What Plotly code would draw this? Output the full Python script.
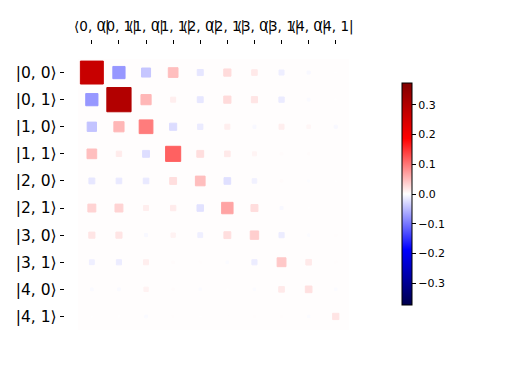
import plotly.graph_objects as go
import numpy as np

# Hinton diagram data (rows = kets |n, m>, cols = bras <n, m|)
row_labels = ["|0, 0⟩", "|0, 1⟩", "|1, 0⟩", "|1, 1⟩", "|2, 0⟩",
              "|2, 1⟩", "|3, 0⟩", "|3, 1⟩", "|4, 0⟩", "|4, 1⟩"]
col_labels = ["⟨0, 0|", "⟨0, 1|", "⟨1, 0|", "⟨1, 1|", "⟨2, 0|",
              "⟨2, 1|", "⟨3, 0|", "⟨3, 1|", "⟨4, 0|", "⟨4, 1|"]

row0 = [0.335, -0.095, -0.052, 0.060, -0.023, 0.033, 0.020, -0.016, -0.006, 0.001]
row1 = [-0.095, 0.374, 0.066, 0.016, -0.022, 0.033, 0.024, -0.018, -0.005, 0.001]
row2 = [-0.055, 0.066, 0.120, -0.032, -0.018, 0.016, -0.006, 0.016, 0.008, -0.006]
row3 = [0.060, 0.018, -0.030, 0.145, 0.030, 0.020, 0.010, 0.004, 0.004, 0.002]
row4 = [-0.022, -0.020, -0.020, 0.030, 0.060, -0.028, -0.013, 0.004, -0.003, 0.001]
row5 = [0.040, 0.040, 0.016, 0.018, -0.027, 0.083, 0.031, -0.006, 0.001, 0.002]
row6 = [0.024, 0.024, -0.006, 0.012, -0.015, 0.030, 0.045, -0.017, -0.004, 0.003]
row7 = [-0.015, -0.017, 0.016, 0.004, 0.003, -0.004, -0.017, 0.050, 0.020, 0.003]
row8 = [-0.005, -0.005, 0.012, 0.004, -0.004, 0.001, -0.004, 0.020, 0.028, -0.004]
row9 = [0.001, 0.001, -0.005, 0.003, 0.001, 0.002, 0.003, 0.003, -0.004, 0.025]

W = np.array([row0, row1, row2, row3, row4, row5, row6, row7, row8, row9])
n_rows, n_cols = W.shape

# matplotlib "seismic" colormap
seismic_stops = [(0.0, (0.0, 0.0, 0.3)), (0.25, (0.0, 0.0, 1.0)),
                 (0.5, (1.0, 1.0, 1.0)), (0.75, (1.0, 0.0, 0.0)),
                 (1.0, (0.5, 0.0, 0.0))]


def seismic(t):
    t = min(max(t, 0.0), 1.0)
    for (t0, c0), (t1, c1) in zip(seismic_stops[:-1], seismic_stops[1:]):
        if t <= t1:
            f = (t - t0) / (t1 - t0)
            c = [c0[k] + f * (c1[k] - c0[k]) for k in range(3)]
            return "rgb(%d,%d,%d)" % tuple(int(round(255 * v)) for v in c)
    return "rgb(128,0,0)"


colorscale = [[t, "rgb(%d,%d,%d)" % tuple(int(round(255 * v)) for v in c)]
              for t, c in seismic_stops]

vmax = float(np.abs(W).max())
w_max = 1.25 * vmax

shapes = [dict(type="rect", xref="x", yref="y", x0=0, x1=n_cols, y0=0, y1=n_rows,
               fillcolor=seismic(128 / 255), line=dict(width=0), layer="below")]
for i in range(n_rows):
    for j in range(n_cols):
        w = W[i, j]
        hs = np.sqrt(min(1.0, abs(w) / w_max)) / 2
        cx = j + 0.5
        cy = n_rows - i - 0.5
        col = seismic((w + w_max) / (2 * w_max))
        shapes.append(dict(type="rect", xref="x", yref="y",
                           x0=cx - hs, x1=cx + hs, y0=cy - hs, y1=cy + hs,
                           fillcolor=col, line=dict(color=col, width=1)))

xs = [j + 0.5 for i in range(n_rows) for j in range(n_cols)]
ys = [n_rows - i - 0.5 for i in range(n_rows) for j in range(n_cols)]

fig = go.Figure()
fig.add_trace(go.Scatter(
    x=xs, y=ys, mode="markers", hoverinfo="skip",
    marker=dict(size=1, opacity=0, color=W.flatten().tolist(),
                colorscale=colorscale, cmin=-vmax, cmax=vmax, showscale=True,
                colorbar=dict(x=401.7 / 512, xanchor="left", y=1 - 194 / 384,
                              yanchor="middle", lenmode="pixels", len=222,
                              xpad=0, ypad=0,
                              thickness=10, outlinewidth=1, outlinecolor="black",
                              tickvals=[-0.3, -0.2, -0.1, 0.0, 0.1, 0.2, 0.3],
                              tickformat=".1f", ticks="outside", ticklen=4,
                              tickcolor="black",
                              tickfont=dict(size=11, color="black",
                                            family="DejaVu Sans")))))

fig.update_layout(
    width=512, height=384, margin=dict(l=0, r=0, t=0, b=0),
    paper_bgcolor="white", plot_bgcolor="white", showlegend=False,
    shapes=shapes,
    font=dict(family="DejaVu Sans", color="black"),
    xaxis=dict(domain=[64.75 / 512, 362.85 / 512], range=[-0.5, n_cols + 0.5],
               side="top", showgrid=False, zeroline=False, showline=False,
               tickvals=[j + 0.5 for j in range(n_cols)], ticktext=col_labels,
               ticks="outside", ticklen=4, tickcolor="black", tickangle=0,
               ticklabelstandoff=4,
               tickfont=dict(size=13.5, color="black")),
    yaxis=dict(domain=[1 - 343.55 / 384, 1 - 45.45 / 384], range=[-0.5, n_rows + 0.5],
               showgrid=False, zeroline=False, showline=False,
               tickvals=[n_rows - i - 0.5 for i in range(n_rows)], ticktext=row_labels,
               ticks="outside", ticklen=4, tickcolor="black",
               tickfont=dict(size=15.5, color="black")),
)

fig.write_html("out.html", config={"displayModeBar": False},
               post_script="document.body.style.margin='0px';")
